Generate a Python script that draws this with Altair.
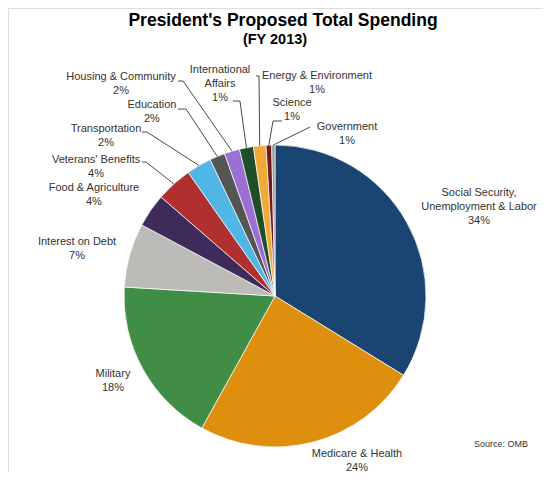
import math
import altair as alt
import pandas as pd

#===== data =====
categories = [
  "Social Security, Unemployment & Labor", "Medicare & Health", "Military",
  "Interest on Debt", "Food & Agriculture", "Veterans' Benefits",
  "Transportation", "Education", "Housing & Community",
  "International Affairs", "Energy & Environment", "Science", "Government",
]
values = [34, 24.4, 18, 6.9, 3.6, 3.9, 2.7, 1.65, 1.65, 1.5, 1.35, 0.6, 0.35]
pct_labels = ["34%", "24%", "18%", "7%", "4%", "4%", "2%", "2%", "2%", "1%", "1%", "1%", "1%"]
colors = [
  "#1a4472", "#df8f0e", "#408e46", "#bdbbb7", "#3f2a5c", "#b0302f",
  "#4fb6e6", "#555555", "#9b6fd4", "#1f4f2a", "#f0aa3a", "#6e1a1f", "#9a9a9a",
]
# label text, "|" = line break
label_text = [
  "Social Security,|Unemployment & Labor", "Medicare & Health", "Military",
  "Interest on Debt", "Food & Agriculture", "Veterans' Benefits",
  "Transportation", "Education", "Housing & Community",
  "International|Affairs", "Energy & Environment", "Science", "Government",
]

#===== layout (in pie radii from the centre, x right / y up) =====
# position of the first line of each label
label_u = [1.351, 0.543, -1.073, -1.311, -1.199, -1.185, -1.119, -0.815, -1.020, -0.364, 0.278, 0.113, 0.477]
label_v = [0.682, -1.046, -0.517, 0.358, 0.715, 0.901, 1.106, 1.265, 1.450, 1.497, 1.457, 1.278, 1.119]
# leader lines: category -> elbow (u, v), end (u, v)
leaders = {
  "Veterans' Benefits": (-0.854, 0.887, -0.881, 0.887),
  "Transportation": (-0.848, 1.086, -0.881, 1.086),
  "Education": (-0.589, 1.238, -0.642, 1.238),
  "Housing & Community": (-0.609, 1.424, -0.642, 1.424),
  "International Affairs": (-0.232, 1.291, -0.278, 1.291),
  "Energy & Environment": (-0.106, 1.457, -0.126, 1.457),
  "Science": (-0.013, 1.159, 0.046, 1.159),
  "Government": (0.232, 1.119, 0.232, 1.119),
}

R = 151
W, H = 535, 464
CX, CY = 267, 288

xs = alt.Scale(domain=[-CX / R, (W - CX) / R], nice=False, zero=False)
ys = alt.Scale(domain=[-(H - CY) / R, CY / R], nice=False, zero=False)

#===== pie =====
slices = pd.DataFrame({"category": categories, "value": values, "order": list(range(len(values)))})
pie = alt.Chart(slices).mark_arc(radius=R, stroke="white", strokeWidth=0.7).encode(
  theta=alt.Theta("value:Q", stack=True),
  color=alt.Color("category:N", scale=alt.Scale(domain=categories, range=colors), legend=None),
  order=alt.Order("order:Q"),
  x=alt.value(CX),
  y=alt.value(CY),
)

#===== labels =====
labels = pd.DataFrame({
  "label": [t + "|" + p for t, p in zip(label_text, pct_labels)],
  "u": label_u,
  "v": label_v,
})
text = alt.Chart(labels).transform_calculate(
  lines="split(datum.label, '|')"
).mark_text(
  font="Liberation Sans", fontSize=11, lineHeight=14, color="#333333",
  align="center", baseline="middle"
).encode(
  x=alt.X("u:Q", scale=xs, axis=None),
  y=alt.Y("v:Q", scale=ys, axis=None),
  text="lines:N",
)

#===== leader lines: from the middle of each slice's rim =====
total = sum(values)
start = 0
rows = []
for name, val in zip(categories, values):
  mid = (start + val / 2) / total * 2 * math.pi
  start += val
  if name in leaders:
    eu, ev, lu, lv = leaders[name]
    rows += [
      {"id": name, "step": 0, "u": math.sin(mid), "v": math.cos(mid)},
      {"id": name, "step": 1, "u": eu, "v": ev},
      {"id": name, "step": 2, "u": lu, "v": lv},
    ]
lines = alt.Chart(pd.DataFrame(rows)).mark_line(color="#333333", strokeWidth=0.9).encode(
  x=alt.X("u:Q", scale=xs, axis=None),
  y=alt.Y("v:Q", scale=ys, axis=None),
  detail="id:N",
  order="step:Q",
)

#===== titles / source =====
def note(s, x, y, size, weight="normal", color="black"):
  return alt.Chart(pd.DataFrame({"t": [s]})).mark_text(
    font="Liberation Sans", fontSize=size, fontWeight=weight, color=color,
    align="center", baseline="middle"
  ).encode(text="t:N", x=alt.value(x), y=alt.value(y))

title = note("President's Proposed Total Spending", 275, 13, 17.5, "bold")
subtitle = note("(FY 2013)", 267, 32, 14.5, "bold")
source = note("Source: OMB", 493, 436, 9, color="#333333")

chart = alt.layer(pie, lines, text, title, subtitle, source).properties(
  width=W, height=H, autosize=alt.AutoSizeParams(type="none"), padding=0
).configure_view(stroke=None).configure(background="white")

chart.save("out.html", embed_options={"renderer": "svg", "actions": False})
